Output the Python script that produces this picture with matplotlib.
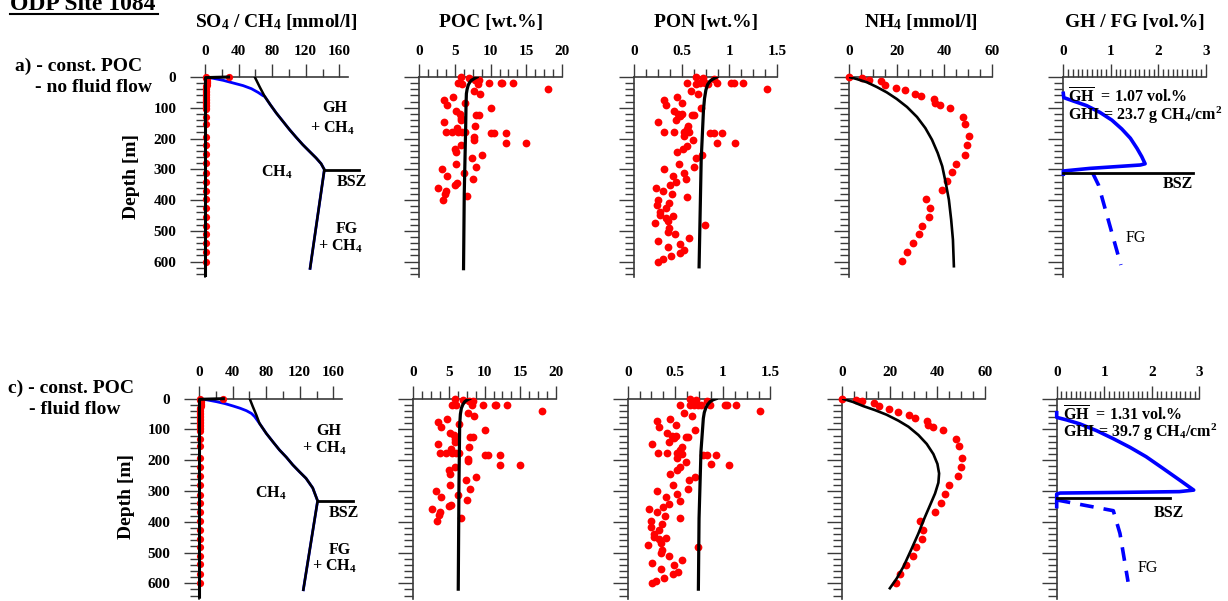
import matplotlib
matplotlib.use('Agg')
import matplotlib.pyplot as plt
from matplotlib.lines import Line2D

plt.rcParams['font.family'] = ['Liberation Serif', 'DejaVu Serif']
plt.rcParams['font.weight'] = 'bold'
plt.rcParams['mathtext.fontset'] = 'custom'
plt.rcParams['mathtext.rm'] = 'Liberation Serif:bold'
plt.rcParams['mathtext.it'] = 'Liberation Serif:bold'
plt.rcParams['mathtext.bf'] = 'Liberation Serif:bold'
plt.rcParams['mathtext.default'] = 'rm'

# ---- measured data (same in both rows) ----
so4_depth = [0, 1, 4, 8, 12, 16, 20, 25, 30, 35, 40, 45, 50, 55, 60, 65, 70, 75, 80, 85, 90, 95, 100, 105,
             131, 154, 194, 221, 250, 280, 312, 340, 369, 398, 427, 456, 483, 510, 538, 570, 600]
so4_val = [29, 1.5, 1.5, 1.8, 2.0, 2.0, 1.8, 1.8, 1.6, 1.6, 1.5, 1.5, 1.4, 1.4, 1.3, 1.3, 1.2, 1.2, 1.1, 1.1, 1.0, 1.0, 1.0, 1.0,
           0.8, 0.8, 0.7, 0.7, 0.7, 0.7, 0.7, 0.6, 0.6, 0.6, 0.6, 0.6, 0.6, 0.6, 0.6, 0.6, 0.6]

poc_depth = [0, 4, 19.5, 21.7, 8.7, 8.7, 21.7, 19.5, 19.5, 19.5, 19.5, 40, 45.5, 56, 76, 65, 92, 83, 102, 112,
             119, 132, 141, 125, 125, 147, 158, 165, 178, 178, 178, 178, 178, 195, 204, 182, 182, 182, 214.5, 215.6,
             222, 233, 244, 255, 263, 282, 292.5, 299, 312, 321, 330, 344.5, 350, 360, 369, 379, 388, 399]
poc_val = [5.83, 6.95, 5.36, 6.01, 7.79, 8.34, 8.16, 9.74, 11.4, 11.6, 13.2, 18.0, 7.7, 8.44, 3.40, 4.66, 3.82, 6.39, 10.0, 5.13,
           5.69, 5.83, 5.83, 7.93, 8.34, 3.50, 7.83, 5.22, 3.78, 4.62, 5.45, 6.01, 6.39, 7.69, 7.69, 10.0, 10.5, 12.2, 12.2, 14.9,
           5.83, 4.99, 5.13, 8.72, 7.32, 5.13, 7.93, 3.17, 6.29, 3.87, 7.46, 5.22, 4.99, 2.61, 3.73, 3.64, 6.67, 3.26]

pon_depth = [0, 4, 19.5, 21.7, 19.5, 19.5, 21.7, 6.5, 19.5, 19.5, 19.5, 19.5, 40, 46.6, 55, 65, 73.7, 91, 84.5, 102,
             110.5, 121, 121, 128, 123.5, 123.5, 147, 141, 158, 168, 178, 178, 178, 180, 193, 206, 182, 182, 182, 213,
             215.6, 223, 233, 245, 253.5, 264, 282, 292.5, 299, 311, 321, 331.5, 341, 351, 360, 369, 380, 389, 399, 408,
             417, 426, 439, 450, 457, 453, 469, 476, 481, 492, 503, 511, 533, 524, 542, 552.5, 563, 571, 582, 591.5, 600]
pon_val = [0.650, 0.717, 0.555, 0.653, 0.695, 0.738, 0.773, 0.836, 0.868, 1.019, 1.043, 1.138, 1.391, 0.597, 0.674, 0.446, 0.309, 0.330, 0.506, 0.706,
           0.414, 0.464, 0.506, 0.485, 0.611, 0.632, 0.253, 0.436, 0.569, 0.551, 0.316, 0.414, 0.523, 0.576, 0.520, 0.618, 0.794, 0.836, 0.927, 0.871,
           1.061, 0.551, 0.516, 0.446, 0.710, 0.646, 0.471, 0.632, 0.309, 0.520, 0.407, 0.548, 0.439, 0.376, 0.225, 0.306, 0.397, 0.555, 0.246, 0.365,
           0.243, 0.330, 0.274, 0.274, 0.334, 0.404, 0.351, 0.218, 0.738, 0.365, 0.351, 0.429, 0.253, 0.576, 0.485, 0.351, 0.527, 0.478, 0.386, 0.299, 0.253]

nh4_depth = [0, 3, 8.7, 14, 25, 35, 43, 54, 63, 71.5, 84.5, 92, 101, 130, 154, 193, 222, 252, 282, 310,
             339, 368, 396.5, 426, 456, 483, 510, 540, 570, 599]
nh4_val = [0, 5.6, 8.3, 13.5, 15.3, 19.6, 23.6, 27.9, 30.4, 35.6, 36.1, 38.2, 42.4, 48.0, 48.9, 50.4, 49.7, 48.6, 44.8, 43.1,
           41.3, 38.9, 32.5, 33.9, 33.7, 30.8, 29.6, 26.9, 24.4, 22.4]

# ---- model results, row a (no fluid flow) ----
so4_mod_depth_a = [0, 2, 645]
so4_mod_a = [28, 0.6, 0.6]
ch4_mod_depth_a = [0, 4.3, 10.8, 19.5, 28, 38, 50, 60.7, 63, 90, 117, 144, 171, 196, 220, 241.6, 263, 281.6, 301, 622]
ch4_mod_a = [0, 9.9, 21.7, 33.6, 45.4, 55.3, 63.2, 69.1, 71.1, 77.8, 84.9, 92.8, 100.7, 108.6, 116.5, 124.4, 132.3, 138.3, 142.2, 125.2]
sol_depth_a = [0, 32.5, 63, 90, 117, 144, 171, 196, 220, 241.6, 263, 281.6, 301, 622]
sol_a = [59.3, 65.2, 71.1, 77.8, 84.9, 92.8, 100.7, 108.6, 116.5, 124.4, 132.3, 138.3, 142.2, 125.2]
bsz_a = 301
poc_mod_depth_a = [0, 5, 11, 18, 27, 40, 54, 90, 162, 379, 623]
poc_mod_a = [8.1, 7.7, 7.3, 7.05, 6.85, 6.7, 6.6, 6.55, 6.5, 6.3, 6.2]
pon_mod_depth_a = [0, 6, 13, 25, 43, 70, 108, 271, 617]
pon_mod_a = [0.868, 0.83, 0.797, 0.77, 0.752, 0.738, 0.727, 0.703, 0.681]
nh4_mod_depth_a = [0, 6.5, 17, 32.5, 50, 71.5, 97.5, 130, 166, 204, 247, 290, 345, 399, 464, 529, 615]
nh4_mod_a = [0, 3.2, 7.5, 11.7, 15.9, 20.1, 24.4, 28.6, 32.1, 34.9, 37.3, 39.2, 40.7, 42.0, 42.96, 43.7, 44.1]
gh_depth_a = [53, 67, 78, 93, 115, 140, 169, 199, 232, 259, 282, 286, 297, 305.5, 316]
gh_a = [0, 0.01, 0.21, 0.49, 0.77, 1.02, 1.23, 1.41, 1.55, 1.65, 1.72, 1.62, 0.56, 0, 0]
fg_depth_a = [313, 351, 611]
fg_a = [0.62, 0.74, 1.21]
gh_bsz_a = 313
gh_bsz_len_a = 2.73

# ---- model results, row c (fluid flow) ----
so4_mod_depth_c = [0, 2, 645]
so4_mod_c = [29, 0.6, 0.6]
ch4_mod_depth_c = [0, 4, 9.7, 16, 23.8, 31, 39, 48, 58.5, 80, 112.6, 140, 166.7, 190, 215, 237, 258.7, 290, 332, 621]
ch4_mod_c = [0, 10, 20.9, 31, 40.7, 49, 56.5, 62.5, 66.4, 72, 80.1, 88, 95.9, 104, 111.7, 119.5, 127.5, 135.5, 141.3, 124.3]
sol_depth_c = [0, 25, 53, 80, 112.6, 140, 166.7, 190, 215, 237, 258.7, 290, 332, 621]
sol_c = [60.4, 64, 68.3, 72, 80.1, 88, 95.9, 104, 111.7, 119.5, 127.5, 135.5, 141.3, 124.3]
bsz_c = 332
poc_mod_depth_c = [0, 4, 10, 19, 31, 50, 86, 280, 619]
poc_mod_c = [7.9, 7.55, 7.2, 6.95, 6.74, 6.6, 6.5, 6.4, 6.3]
pon_mod_depth_c = [0, 4, 10, 19, 31, 45, 64, 172, 389, 619]
pon_mod_c = [0.93, 0.895, 0.865, 0.84, 0.82, 0.805, 0.795, 0.77, 0.75, 0.743]
nh4_mod_depth_c = [0, 10.8, 24, 37, 52, 71.5, 91, 118, 147, 180, 212, 243, 273, 308, 346, 389, 438, 492, 546, 584, 616]
nh4_mod_c = [0, 4.6, 8.8, 13.7, 18.6, 23.6, 27.8, 32.0, 35.5, 38.3, 40.0, 40.7, 40.4, 39.0, 36.9, 34.5, 32.0, 28.9, 25.7, 22.9, 20.0]
gh_depth_c = [45.5, 60.7, 69, 82, 104, 130, 158, 188.5, 226, 264, 297, 302, 304.5, 306.6, 310, 351]
gh_c = [0, 0, 0.21, 0.49, 0.84, 1.19, 1.54, 1.88, 2.23, 2.58, 2.88, 2.58, 1.33, 0.07, 0, 0]
fg_depth_c = [329, 345.6, 364, 438, 595]
fg_c = [0, 0.56, 1.19, 1.33, 1.5]
gh_bsz_c = 324
gh_bsz_len_c = 2.39

titles = ['SO$_4$ / CH$_4$ [mmol/l]', 'POC [wt.%]', 'PON [wt.%]', 'NH$_4$ [mmol/l]', 'GH / FG [vol.%]']
xmax = [170, 20, 1.5, 60, 3]
xmajor = [[0, 40, 80, 120, 160], [0, 5, 10, 15, 20], [0, 0.5, 1, 1.5], [0, 20, 40, 60], [0, 1, 2, 3]]
xlabels = [['0', '40', '80', '120', '160'], ['0', '5', '10', '15', '20'], ['0', '0.5', '1', '1.5'],
           ['0', '20', '40', '60'], ['0', '1', '2', '3']]
xminor_step = [20, 1.25, 0.125, 5, 0.1]

W, H = 1228, 601
fig = plt.figure(figsize=(12.28, 6.01), dpi=100)
ax_col = '#3a3a3a'


def make_ax(i, left_px, top_px, ylabels):
    ax = fig.add_axes([left_px / W, 1 - (top_px + 200) / H, 142.7 / W, 200 / H])
    ax.set_xlim(0, xmax[i])
    ax.set_ylim(650, 0)
    ax.xaxis.tick_top()
    ax.spines['right'].set_visible(False)
    ax.spines['bottom'].set_visible(False)
    for s in ('left', 'top'):
        ax.spines[s].set_color(ax_col)
        ax.spines[s].set_linewidth(1.2)
    ax.set_xticks(xmajor[i])
    ax.set_xticklabels(xlabels[i])
    n = int(round(xmax[i] / xminor_step[i]))
    mins = [k * xminor_step[i] for k in range(n + 1)]
    mins = [m for m in mins if m <= xmax[i] + 1e-9 and all(abs(m - M) > 1e-6 for M in xmajor[i])]
    ax.set_xticks(mins, minor=True)
    ax.set_yticks(range(0, 601, 100))
    ax.set_yticks([d for d in range(20, 641, 20) if d % 100 != 0], minor=True)
    if ylabels:
        ax.set_yticklabels([str(d) for d in range(0, 601, 100)])
    else:
        ax.set_yticklabels([])
    ax.tick_params(axis='x', which='major', length=9.4, width=1, color=ax_col, pad=4.5, labelsize=11)
    ax.tick_params(axis='x', which='minor', length=6, width=1, color=ax_col)
    ax.tick_params(axis='y', which='major', length=10.6, width=1, color=ax_col, pad=10, labelsize=11)
    ax.tick_params(axis='y', which='minor', length=6.5, width=1, color=ax_col)
    return ax


def draw_row(top_px, lefts, so4_md, so4_m, ch4_md, ch4_m, sol_d, sol, bsz, txt_pos,
             poc_md, poc_m, pon_md, pon_m, nh4_md, nh4_m, gh_d, gh, fg_d, fg, ghb, ghb_len, gh_txt, gh_pos):
    a1 = make_ax(0, lefts[0], top_px, True)
    a1.plot(ch4_m, ch4_md, color='blue', lw=2, zorder=3)
    a1.plot(sol, sol_d, color='black', lw=1.8, zorder=4)
    a1.plot([sol[sol_d.index(bsz)], 183], [bsz, bsz], color='black', lw=2, clip_on=False, zorder=4)
    a1.plot(so4_val, so4_depth, 'o', color='red', ms=5.2, mew=0, clip_on=False, zorder=3)
    a1.plot(so4_m, so4_md, color='black', lw=2.2, clip_on=False, zorder=5)
    for (x, y, s) in txt_pos:
        a1.text(x, y, s, ha='center', va='center', fontsize=11.5, clip_on=False)

    a2 = make_ax(1, lefts[1], top_px, False)
    a2.plot(poc_val, poc_depth, 'o', color='red', ms=5.6, mew=0, clip_on=False, zorder=3)
    a2.plot(poc_m, poc_md, color='black', lw=2.3, zorder=4)

    a3 = make_ax(2, lefts[2], top_px, False)
    a3.plot(pon_val, pon_depth, 'o', color='red', ms=5.6, mew=0, clip_on=False, zorder=3)
    a3.plot(pon_m, pon_md, color='black', lw=2.3, zorder=4)

    a4 = make_ax(3, lefts[3], top_px, False)
    a4.plot(nh4_val, nh4_depth, 'o', color='red', ms=5.6, mew=0, clip_on=False, zorder=3)
    a4.plot(nh4_m, nh4_md, color='black', lw=1.9, zorder=4)

    a5 = make_ax(4, lefts[4], top_px, False)
    a5.plot(gh, gh_d, color='blue', lw=2.6, clip_on=False, zorder=3, solid_joinstyle='round')
    a5.plot([0, ghb_len], [ghb, ghb], color='black', lw=2, clip_on=False, zorder=4)
    a5.plot(fg, fg_d, color='blue', lw=2.6, ls=(0, (3.8, 2.8)), zorder=3)
    a5.text(gh_pos[0][0], gh_pos[0][1], r'$\overline{\mathrm{GH}}$  = ' + gh_txt[0] + ' vol.%',
            ha='left', va='center', fontsize=11.5, zorder=6)
    a5.text(gh_pos[1][0], gh_pos[1][1], 'GHI = ' + gh_txt[1] + r' g CH$_4$/cm$^2$',
            ha='left', va='center', fontsize=11.5, zorder=6)
    a5.text(gh_pos[2][0], gh_pos[2][1], 'BSZ', ha='left', va='center', fontsize=11.5)
    a5.text(gh_pos[3][0], gh_pos[3][1], 'FG', ha='left', va='center', fontsize=11.5, fontweight='normal')


txt_a = [(154, 101, 'GH'), (152, 166, '+ CH$_4$'), (85, 309, 'CH$_4$'), (175, 340, 'BSZ'),
         (169.5, 494, 'FG'), (161, 551, '+ CH$_4$')]
txt_c = [(155, 106, 'GH'), (149, 161, '+ CH$_4$'), (85, 306, 'CH$_4$'), (172, 370, 'BSZ'),
         (168, 492, 'FG'), (161, 545, '+ CH$_4$')]

draw_row(77, [205, 419.3, 634.3, 849, 1063.3], so4_mod_depth_a, so4_mod_a, ch4_mod_depth_a, ch4_mod_a,
         sol_depth_a, sol_a, bsz_a, txt_a, poc_mod_depth_a, poc_mod_a, pon_mod_depth_a, pon_mod_a,
         nh4_mod_depth_a, nh4_mod_a, gh_depth_a, gh_a, fg_depth_a, fg_a, gh_bsz_a, gh_bsz_len_a,
         ('1.07', '23.7'), [(0.1, 68), (0.1, 126), (2.1, 348), (1.3, 522)])
draw_row(398.7, [199, 413.3, 627.7, 842.3, 1056.7], so4_mod_depth_c, so4_mod_c, ch4_mod_depth_c, ch4_mod_c,
         sol_depth_c, sol_c, bsz_c, txt_c, poc_mod_depth_c, poc_mod_c, pon_mod_depth_c, pon_mod_c,
         nh4_mod_depth_c, nh4_mod_c, gh_depth_c, gh_c, fg_depth_c, fg_c, gh_bsz_c, gh_bsz_len_c,
         ('1.31', '39.7'), [(0.13, 56), (0.13, 110.5), (2.03, 371.5), (1.71, 550)])

# column titles
for cx, t in zip([276.5, 490.8, 705.8, 920.5, 1134.8], titles):
    fig.text(cx / W, 1 - 27 / H, t, ha='center', va='baseline', fontsize=14)

# row labels
fig.text(131.7 / W, 1 - 176.7 / H, 'Depth [m]', rotation=90, ha='center', va='center', fontsize=14)
fig.text(126.7 / W, 1 - 496.7 / H, 'Depth [m]', rotation=90, ha='center', va='center', fontsize=14)
fig.text(15 / W, 1 - 66 / H, 'a) - const. POC', ha='left', va='center', fontsize=14)
fig.text(35 / W, 1 - 87.3 / H, '- no fluid flow', ha='left', va='center', fontsize=14)
fig.text(8 / W, 1 - 388.3 / H, 'c) - const. POC', ha='left', va='center', fontsize=14)
fig.text(29 / W, 1 - 410 / H, '- fluid flow', ha='left', va='center', fontsize=14)

fig.text(10 / W, 1 - 10.5 / H, 'ODP Site 1084', ha='left', va='baseline', fontsize=17)
fig.add_artist(Line2D([10 / W, 158 / W], [1 - 13.5 / H, 1 - 13.5 / H], color='black', lw=1.5))

fig.savefig('out.png', dpi=100)
